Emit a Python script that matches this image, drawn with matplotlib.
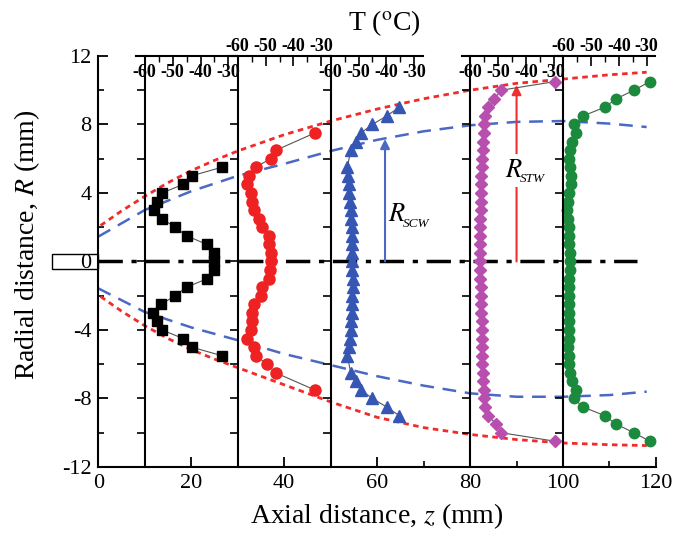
import matplotlib.pyplot as plt
from matplotlib.patches import Rectangle
from matplotlib.ticker import MultipleLocator
from matplotlib.transforms import offset_copy

plt.rcParams['font.family'] = ['Liberation Serif', 'DejaVu Serif']
plt.rcParams['mathtext.fontset'] = 'stix'
plt.rcParams['axes.unicode_minus'] = False

# axial stations of the temperature profiles (mm)
stations = [10, 30, 50, 80, 100]
labels_above = [False, True, False, False, True]

# temperature scale of every station (degC) and its width in mm per degC
t_lo, t_hi = -63, -27
t_ticks = [-60, -50, -40, -30]
mm_per_deg = 0.6

# profile at z = 10 mm (black squares)
r_black = [5.5, 5.0, 4.5, 4.0, 3.5, 3.0, 2.5, 2.0, 1.5, 1.0, 0.5, 0.0,
           -0.5, -1.0, -1.5, -2.0, -2.5, -3.0, -3.5, -4.0, -4.5, -5.0, -5.5]
t_black = [-32.4, -43.2, -46.2, -53.8, -55.6, -56.8, -53.8, -49.2, -45.0, -37.8, -35.1, -35.3,
           -35.1, -37.5, -45.0, -49.2, -54.0, -57.0, -55.6, -53.8, -46.2, -43.2, -32.4]

# profile at z = 30 mm (red circles)
r_red = [7.5, 6.5, 6.0, 5.5, 5.0, 4.5, 4.0, 3.5, 3.0, 2.5, 2.0, 1.5, 1.0, 0.5, 0.0,
         -0.5, -1.0, -1.5, -2.0, -2.5, -3.0, -3.5, -4.0, -4.5, -5.0, -5.5, -6.0, -6.5, -7.5]
t_red = [-32.4, -46.2, -48.2, -53.6, -55.8, -56.7, -55.2, -54.9, -54.2, -52.4, -51.3, -48.8, -48.6, -48.0, -48.0,
         -48.5, -48.8, -51.3, -51.8, -54.0, -54.9, -54.9, -55.1, -56.7, -54.2, -53.6, -49.4, -46.4, -32.4]

# profile at z = 50 mm (blue triangles)
r_blue = [9.0, 8.5, 8.0, 7.5, 7.0, 6.5, 5.5, 5.0, 4.5, 4.0, 3.5, 3.0, 2.5, 2.0, 1.5, 1.0, 0.5, 0.0,
          -0.5, -1.0, -1.5, -2.0, -2.5, -3.0, -3.5, -4.0, -4.5, -5.0, -5.5, -6.5, -7.0, -7.5, -8.0, -8.5, -9.0]
t_blue = [-35.4, -39.9, -45.0, -49.2, -51.0, -52.8, -54.0, -53.7, -53.3, -53.3, -52.9, -52.6, -52.6, -52.2, -52.2, -52.2, -52.2, -52.2,
          -52.2, -52.0, -52.0, -52.2, -52.4, -52.4, -52.6, -52.8, -53.0, -53.3, -54.0, -52.8, -51.0, -49.2, -45.0, -39.9, -35.4]

# profiles at z = 80 mm (magenta diamonds) and z = 100 mm (green circles)
r_fine = [10.5, 10.0, 9.5, 9.0, 8.5, 8.0, 7.5, 7.0, 6.5, 6.0, 5.5, 5.0, 4.5, 4.0, 3.5, 3.0, 2.5, 2.0, 1.5, 1.0, 0.5, 0.0,
          -0.5, -1.0, -1.5, -2.0, -2.5, -3.0, -3.5, -4.0, -4.5, -5.0, -5.5, -6.0, -6.5, -7.0, -7.5, -8.0, -8.5, -9.0, -9.5, -10.0, -10.5]
t_mag = [-29.7, -48.8, -51.3, -53.6, -54.5, -54.9, -55.0, -55.4, -55.4, -55.8, -55.8, -56.0, -56.0, -56.0, -56.2, -56.2, -56.3, -56.3, -56.3, -56.4, -56.4, -56.5,
         -56.4, -56.3, -56.2, -56.0, -56.0, -56.0, -55.8, -55.8, -55.6, -55.6, -55.6, -55.6, -55.4, -55.2, -55.0, -55.0, -54.5, -53.6, -50.6, -48.8, -29.4]
t_green = [-28.8, -34.6, -40.9, -45.1, -52.8, -55.9, -55.2, -56.8, -57.5, -58.0, -57.5, -57.0, -57.2, -57.8, -58.2, -58.5, -58.2, -58.0, -58.0, -57.8, -57.6, -57.5,
           -57.5, -57.8, -58.0, -58.0, -58.0, -57.8, -57.8, -58.0, -58.0, -58.2, -58.0, -57.8, -57.5, -56.8, -55.2, -56.2, -52.8, -45.1, -40.9, -34.6, -28.8]

# boundaries (mm): red dotted R_STW, blue dashed R_SCW
z_stw = [0.5, 5, 10, 15, 20, 25, 30, 40, 50, 60, 70, 80, 90, 100, 110, 118]
r_stw_up = [2.1, 2.95, 3.8, 4.6, 5.3, 5.9, 6.45, 7.4, 8.2, 8.9, 9.5, 10.0, 10.4, 10.65, 10.9, 11.05]
r_stw_lo = [-2.05, -2.9, -3.75, -4.5, -5.15, -5.7, -6.2, -7.2, -8.2, -9.1, -9.7, -10.1, -10.4, -10.6, -10.7, -10.75]
z_scw = [0, 10, 20, 30, 40, 50, 60, 70, 80, 90, 100, 110, 118]
r_scw_up = [1.45, 3.0, 4.1, 5.0, 5.7, 6.45, 7.1, 7.6, 7.95, 8.15, 8.2, 8.05, 7.85]
r_scw_lo = [-1.57, -2.95, -3.85, -4.6, -5.4, -6.05, -6.7, -7.25, -7.7, -7.9, -7.9, -7.8, -7.6]

# centerline, nozzle and the two radius arrows
axis_z = [0, 116]
nozzle = (-10, -0.45, 10, 0.9)
arrow_z = [61.7, 90.0]
arrow_top = [7.15, 10.3]

fig = plt.figure(figsize=(6.73, 5.37), dpi=100)
ax = fig.add_axes([0.146, 0.1304, 0.8287, 0.7654])
ax.set_xlim(0, 120)
ax.set_ylim(-12, 12)
for side in ['top', 'right']:
    ax.spines[side].set_visible(False)
for side in ['left', 'bottom']:
    ax.spines[side].set_linewidth(1.5)
ax.xaxis.set_major_locator(MultipleLocator(20))
ax.xaxis.set_minor_locator(MultipleLocator(10))
ax.yaxis.set_major_locator(MultipleLocator(4))
ax.yaxis.set_minor_locator(MultipleLocator(2))
ax.tick_params(which='major', direction='in', length=7, width=1.3, labelsize=16, pad=5)
ax.tick_params(which='minor', direction='in', length=4, width=1.2)
ax.set_xlabel('Axial distance, $z$ (mm)', fontsize=20, labelpad=6)
ax.set_ylabel('Radial distance, $R$ (mm)', fontsize=20)
ax.yaxis.set_label_coords(-0.10, 0.54)
fig.text(0.572, 0.957, 'T ($^{\\mathrm{o}}$C)', ha='center', va='center', fontsize=20)

# boundaries and centerline
ax.plot(z_stw, r_stw_up, color='#f22a2a', lw=2, linestyle=(0, (2, 1.6)))
ax.plot(z_stw, r_stw_lo, color='#f22a2a', lw=2, linestyle=(0, (2, 1.6)))
ax.plot(z_scw, r_scw_up, color='#4a68c4', lw=1.8, linestyle=(0, (5.5, 3.5)))
ax.plot(z_scw, r_scw_lo, color='#4a68c4', lw=1.8, linestyle=(0, (5.5, 3.5)))
ax.plot(axis_z, [0, 0], color='black', lw=2.5, linestyle=(0, (7, 2.5, 1.5, 2.5)))
ax.add_patch(Rectangle(nozzle[:2], nozzle[2], nozzle[3], facecolor='none',
                       edgecolor='black', lw=1, clip_on=False, zorder=1))

# radius arrows with their labels (small italic subscripts)
ax.annotate('', xy=(arrow_z[0], arrow_top[0]), xytext=(arrow_z[0], 0),
            arrowprops=dict(arrowstyle='-|>', color='#4a68c4', lw=1.5, mutation_scale=14, shrinkA=0, shrinkB=0))
ax.annotate('', xy=(arrow_z[1], arrow_top[1]), xytext=(arrow_z[1], 0),
            arrowprops=dict(arrowstyle='-|>', color='#f03030', lw=1.5, mutation_scale=14, shrinkA=0, shrinkB=0))
sub_shift = offset_copy(ax.transData, fig=fig, x=11, y=-6, units='points')
ax.text(arrow_z[0] + 0.6, 2.7, '$R$', fontsize=19, ha='left', va='center')
ax.text(arrow_z[0] + 0.6, 2.7, 'SCW', fontsize=9.5, style='italic', ha='left', va='center', transform=sub_shift)
ax.text(arrow_z[1] - 2.5, 5.3, '$R$', fontsize=19, ha='left', va='center', zorder=4,
        bbox=dict(facecolor='white', edgecolor='none', pad=4))
ax.text(arrow_z[1] - 2.5, 5.3, 'STW', fontsize=9.5, style='italic', ha='left', va='center', zorder=5,
        transform=sub_shift)

# temperature profile panels
profiles = [
    (r_black, t_black, 's', 'black', 6.5),
    (r_red, t_red, 'o', '#ee2222', 8),
    (r_blue, t_blue, '^', '#3656b4', 8),
    (r_fine, t_mag, 'D', '#b84fae', 6.5),
    (r_fine, t_green, 'o', '#1b8a3c', 7.5),
]
for z0, above, (rr, tt, mk, col, ms) in zip(stations, labels_above, profiles):
    sub = ax.inset_axes([z0 + (t_lo + 60) * mm_per_deg, -12, (t_hi - t_lo) * mm_per_deg, 24],
                        transform=ax.transData)
    sub.set_xlim(t_lo, t_hi)
    sub.set_ylim(-12, 12)
    sub.patch.set_visible(False)
    sub.spines['right'].set_visible(False)
    sub.spines['bottom'].set_visible(False)
    sub.spines['left'].set_position(('data', -60))
    sub.spines['left'].set_linewidth(1.5)
    sub.spines['top'].set_linewidth(1.5)
    sub.xaxis.tick_top()
    sub.set_xticks(t_ticks)
    sub.set_xticklabels([str(t) for t in t_ticks], fontweight='bold', fontsize=13)
    sub.xaxis.set_minor_locator(MultipleLocator(5))
    sub.tick_params(axis='x', which='major', direction='in', length=7, width=1.2,
                    pad=1 if above else -18)
    sub.tick_params(axis='x', which='minor', direction='in', length=4, width=1)
    sub.yaxis.set_major_locator(MultipleLocator(2))
    sub.tick_params(axis='y', direction='out', length=6, width=1.2, labelleft=False)
    sub.plot(tt, rr, color='#555555', lw=0.8, marker=mk, markersize=ms,
             markerfacecolor=col, markeredgecolor=col, clip_on=False)

fig.savefig('out.png', dpi=100)
